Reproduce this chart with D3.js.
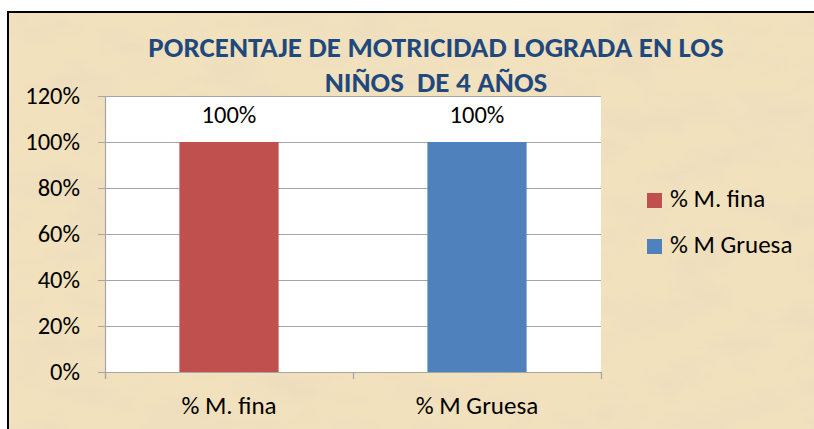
<!DOCTYPE html>
<html><head><meta charset="utf-8">
<script src="https://cdn.jsdelivr.net/npm/d3@7"></script>
<style>body{margin:0;background:#fff;}svg{display:block;}</style>
</head><body>
<script>
const categories = ["% M. fina", "% M Gruesa"];
const values = [1.0, 1.0];
const colors = ["#c0504d", "#4f81bd"];
const yTicks = [0, 0.2, 0.4, 0.6, 0.8, 1.0, 1.2];
const titleLines = ["PORCENTAJE DE MOTRICIDAD LOGRADA EN LOS", "NIÑOS  DE 4 AÑOS"];

const W = 814, H = 429;
const font = "Carlito, Lato, 'Liberation Sans', sans-serif";
const svg = d3.select("body").append("svg").attr("width", W).attr("height", H);

// parchment texture
const defs = svg.append("defs");
const f = defs.append("filter").attr("id", "paper").attr("x", 0).attr("y", 0).attr("width", "100%").attr("height", "100%");
f.append("feTurbulence").attr("type", "fractalNoise").attr("baseFrequency", "0.015 0.03").attr("numOctaves", 4).attr("seed", 7).attr("result", "n");
f.append("feColorMatrix").attr("in", "n").attr("type", "matrix")
  .attr("values", "0 0 0 0 0.84  0 0 0 0 0.72  0 0 0 0 0.52  -2.2 0 0 0 1.25").attr("result", "c");
f.append("feComposite").attr("in", "c").attr("in2", "SourceGraphic").attr("operator", "in");

svg.append("rect").attr("x", 8).attr("y", 12).attr("width", W).attr("height", H).attr("fill", "#f1e1bd");
svg.append("rect").attr("x", 8).attr("y", 12).attr("width", W).attr("height", H).attr("fill", "#000").attr("filter", "url(#paper)");
svg.append("rect").attr("x", 8).attr("y", 12).attr("width", W + 10).attr("height", H + 10)
  .attr("fill", "none").attr("stroke", "#000").attr("stroke-width", 2);

const plot = {left: 105, right: 601, top: 96, bottom: 372};
const x = d3.scaleBand().domain(categories).range([plot.left, plot.right]).paddingInner(0.6).paddingOuter(0.3);
const xb = d3.scaleBand().domain(categories).range([plot.left, plot.right]);
const y = d3.scaleLinear().domain([0, 1.2]).range([plot.bottom, plot.top]);

svg.append("rect").attr("x", plot.left).attr("y", plot.top).attr("width", plot.right - plot.left)
  .attr("height", plot.bottom - plot.top).attr("fill", "#fff");

// gridlines
svg.append("g").selectAll("line").data(yTicks).join("line")
  .attr("x1", plot.left - 7).attr("x2", plot.right)
  .attr("y1", d => Math.round(y(d)) + 0.5).attr("y2", d => Math.round(y(d)) + 0.5)
  .attr("stroke", "#a6a6a6").attr("stroke-width", 1.2);
svg.append("line").attr("x1", plot.left + 0.5).attr("x2", plot.left + 0.5).attr("y1", plot.top).attr("y2", plot.bottom + 7)
  .attr("stroke", "#a6a6a6").attr("stroke-width", 1.2);

// y labels
svg.append("g").selectAll("text").data(yTicks).join("text")
  .attr("x", 80).attr("y", d => y(d) + 8).attr("text-anchor", "end")
  .attr("font-family", font).attr("font-size", 24.5).attr("fill", "#000")
  .text(d => d3.format(".0%")(d));

// x axis ticks
const xTickPos = [plot.left, ...categories.map(c => xb(c) + xb.bandwidth())];
svg.append("g").selectAll("line").data(xTickPos).join("line")
  .attr("x1", d => Math.round(d) + 0.5).attr("x2", d => Math.round(d) + 0.5)
  .attr("y1", plot.bottom).attr("y2", plot.bottom + 7).attr("stroke", "#a6a6a6").attr("stroke-width", 1.2);

// bars
svg.append("g").selectAll("rect").data(categories).join("rect")
  .attr("x", d => x(d)).attr("width", x.bandwidth())
  .attr("y", (d, i) => y(values[i])).attr("height", (d, i) => y(0) - y(values[i]))
  .attr("fill", (d, i) => colors[i]);

// data labels
svg.append("g").selectAll("text").data(categories).join("text")
  .attr("x", d => x(d) + x.bandwidth() / 2).attr("y", (d, i) => y(values[i]) - 19)
  .attr("text-anchor", "middle").attr("font-family", font).attr("font-size", 24.5).attr("fill", "#000")
  .text((d, i) => d3.format(".0%")(values[i]));

// x labels
svg.append("g").selectAll("text").data(categories).join("text")
  .attr("x", d => xb(d) + xb.bandwidth() / 2).attr("y", 414)
  .attr("text-anchor", "middle").attr("font-family", font).attr("font-size", 25).attr("fill", "#000")
  .text(d => d);

// title
svg.append("g").selectAll("text").data(titleLines).join("text")
  .attr("x", 436).attr("y", (d, i) => 57 + i * 35).attr("text-anchor", "middle")
  .attr("font-family", font).attr("font-weight", "bold").attr("font-size", 29).attr("fill", "#1f497d")
  .attr("xml:space", "preserve").style("white-space", "pre")
  .text(d => d);

// legend
const lg = svg.append("g").selectAll("g").data(categories).join("g")
  .attr("transform", (d, i) => `translate(647, ${193 + i * 46})`);
lg.append("rect").attr("width", 15).attr("height", 15).attr("fill", (d, i) => colors[i]);
lg.append("text").attr("x", 23).attr("y", 14).attr("font-family", font).attr("font-size", 25).attr("fill", "#000").text(d => d);
</script>
</body></html>
